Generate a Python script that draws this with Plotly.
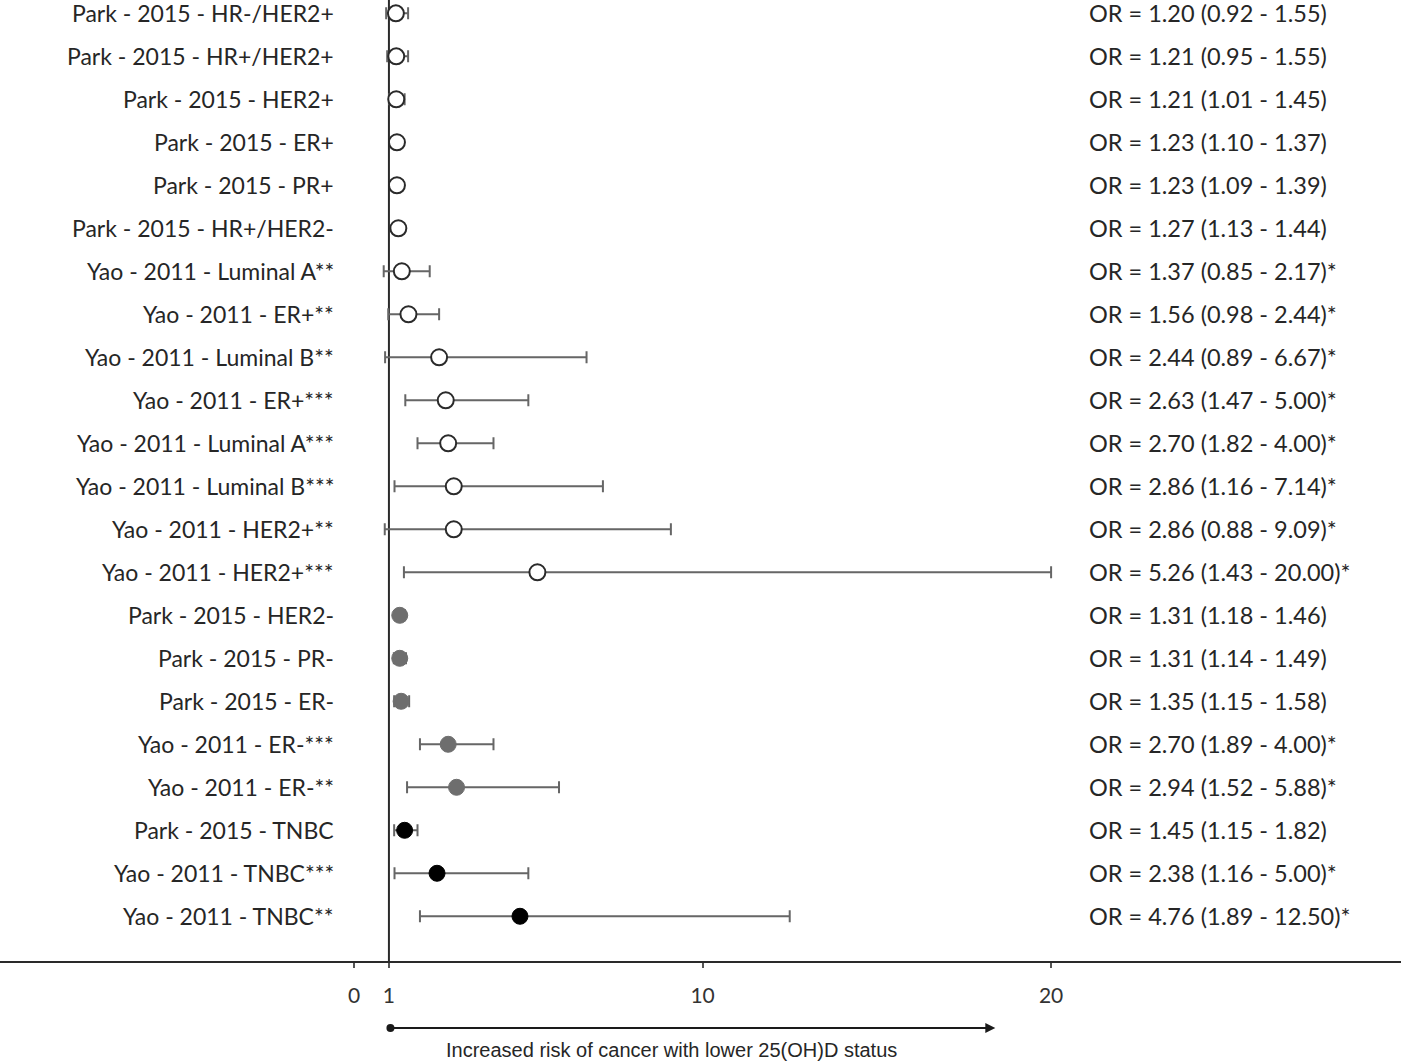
import plotly.graph_objects as go

labels = [
    "Park - 2015 - HR-/HER2+", "Park - 2015 - HR+/HER2+", "Park - 2015 - HER2+",
    "Park - 2015 - ER+", "Park - 2015 - PR+", "Park - 2015 - HR+/HER2-",
    "Yao - 2011 - Luminal A**", "Yao - 2011 - ER+**", "Yao - 2011 - Luminal B**",
    "Yao - 2011 - ER+***", "Yao - 2011 - Luminal A***", "Yao - 2011 - Luminal B***",
    "Yao - 2011 - HER2+**", "Yao - 2011 - HER2+***",
    "Park - 2015 - HER2-", "Park - 2015 - PR-", "Park - 2015 - ER-",
    "Yao - 2011 - ER-***", "Yao - 2011 - ER-**",
    "Park - 2015 - TNBC", "Yao - 2011 - TNBC***", "Yao - 2011 - TNBC**",
]
odds = [1.20, 1.21, 1.21, 1.23, 1.23, 1.27, 1.37, 1.56, 2.44, 2.63, 2.70, 2.86, 2.86, 5.26,
        1.31, 1.31, 1.35, 2.70, 2.94, 1.45, 2.38, 4.76]
lower = [0.92, 0.95, 1.01, 1.10, 1.09, 1.13, 0.85, 0.98, 0.89, 1.47, 1.82, 1.16, 0.88, 1.43,
         1.18, 1.14, 1.15, 1.89, 1.52, 1.15, 1.16, 1.89]
upper = [1.55, 1.55, 1.45, 1.37, 1.39, 1.44, 2.17, 2.44, 6.67, 5.00, 4.00, 7.14, 9.09, 20.00,
         1.46, 1.49, 1.58, 4.00, 5.88, 1.82, 5.00, 12.50]
starred = [False] * 6 + [True] * 8 + [False] * 3 + [True] * 2 + [False] + [True] * 2
group = ["open"] * 14 + ["gray"] * 5 + ["black"] * 3
x_ticks = [0, 1, 10, 20]
x_tick_labels = ["0", "1", "10", "20"]

rows = list(range(len(labels)))

styles = {
    "open": dict(color="white", line=dict(color="#2a2a2a", width=2)),
    "gray": dict(color="#6e6e6e", line=dict(color="#6e6e6e", width=1)),
    "black": dict(color="#000000", line=dict(color="#000000", width=1)),
}

fig = go.Figure()
for g in ["open", "gray", "black"]:
    idx = [i for i in rows if group[i] == g]
    fig.add_trace(go.Scatter(
        x=[odds[i] for i in idx],
        y=[rows[i] for i in idx],
        mode="markers",
        marker=dict(size=16, symbol="circle", **styles[g]),
        error_x=dict(type="data", symmetric=False,
                     array=[upper[i] - odds[i] for i in idx],
                     arrayminus=[odds[i] - lower[i] for i in idx],
                     color="#666666", thickness=2, width=6),
        showlegend=False,
        cliponaxis=False,
    ))

font_main = "Lato, 'Open Sans', sans-serif"
annotations = []
for i in rows:
    annotations.append(dict(
        x=-0.52, y=rows[i], xref="x", yref="y", text=labels[i], showarrow=False,
        xanchor="right", yanchor="middle", font=dict(family=font_main, size=23, color="#262626")))
    txt = "OR = %.2f (%.2f - %.2f)" % (odds[i], lower[i], upper[i]) + ("*" if starred[i] else "")
    annotations.append(dict(
        x=21.03, y=rows[i], xref="x", yref="y", text=txt, showarrow=False,
        xanchor="left", yanchor="middle", font=dict(family=font_main, size=23.5, color="#262626")))

# arrow below axis
annotations.append(dict(
    x=18.4, y=-0.0697, ax=1, ay=0, xref="x", yref="paper", axref="x", ayref="pixel",
    text="", showarrow=True, arrowhead=2, arrowside="end+start", startarrowhead=6,
    arrowsize=1, startarrowsize=1, arrowwidth=2, arrowcolor="#1a1a1a"))
annotations.append(dict(
    x=9.1, y=-0.0926, xref="x", yref="paper", text="Increased risk of cancer with lower 25(OH)D status",
    showarrow=False, xanchor="center", yanchor="middle",
    font=dict(family="Liberation Sans, Arial, sans-serif", size=20, color="#262626")))

fig.update_layout(
    width=1401, height=1062,
    margin=dict(l=0, r=0, t=0, b=101),
    plot_bgcolor="white", paper_bgcolor="white",
    annotations=annotations,
    shapes=[dict(type="line", xref="x", yref="paper", x0=1, x1=1, y0=0, y1=1,
                 line=dict(color="#2a2a2a", width=2), layer="below")],
    xaxis=dict(range=[-10.16, 30.04], showgrid=False, zeroline=False,
               showline=True, linecolor="#2a2a2a", linewidth=2,
               tickmode="array", tickvals=x_ticks, ticktext=x_tick_labels,
               ticks="outside", ticklen=5, tickwidth=2, tickcolor="#555555",
               ticklabelstandoff=10,
               tickfont=dict(family=font_main, size=21, color="#333333")),
    yaxis=dict(range=[22.04, -0.31], showgrid=False, zeroline=False, showline=False,
               showticklabels=False, ticks=""),
)

fig.write_html("out.html", config={"displayModeBar": False},
               post_script="document.body.style.margin='0';document.body.style.overflow='hidden';")
